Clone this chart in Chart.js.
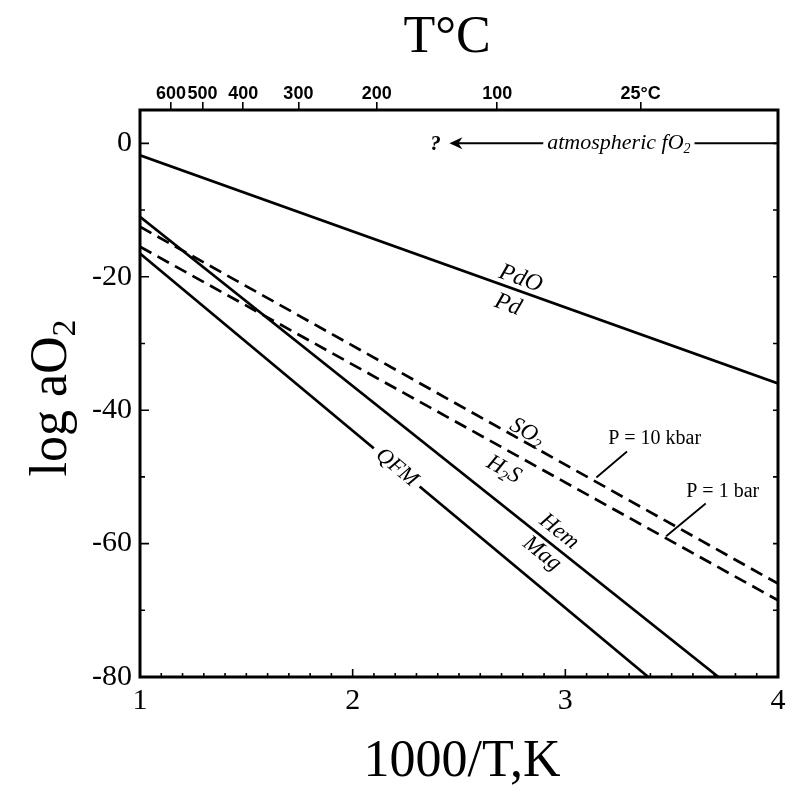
<!DOCTYPE html>
<html lang="en">
<head>
    <meta charset="UTF-8">
    <title>log aO2 vs 1000/T</title>
    <script src="https://cdn.jsdelivr.net/npm/chart.js"></script>
    <style>
        body { margin: 0; background: #fff; }
        #grafico { display: block; }
    </style>
</head>
<body>
    <canvas id="grafico" width="796" height="797"></canvas>
    <script>
    // ---- datos ----
    const xTicks = [1, 2, 3, 4];
    const yTicks = [0, -20, -40, -60, -80];
    const topTempsC = [600, 500, 400, 300, 200, 100, 25];
    const topTickLabels = ['600', '500', '400', '300', '200', '100', '25°C'];

    // lineas de equilibrio (1000/T, log aO2)
    const pdX = [1, 4];
    const pdY = [-1.8, -36];
    const hemMagX = [1, 3.72];
    const hemMagY = [-11, -80];
    const qfmX = [1, 3.39];
    const qfmY = [-16.5, -80];
    const so2HighPX = [1, 4];     // P = 10 kbar
    const so2HighPY = [-12.5, -66];
    const so2LowPX = [1, 4];      // P = 1 bar
    const so2LowPY = [-15.5, -68.5];

    const serif = "'Liberation Serif', 'DejaVu Serif', serif";
    const sans = "'Liberation Sans', Arial, sans-serif";

    function pts(xs, ys) {
        return xs.map((x, i) => ({ x: x, y: ys[i] }));
    }

    function linea(label, xs, ys, dashed) {
        return {
            label: label,
            data: pts(xs, ys),
            showLine: true,
            borderColor: '#000',
            borderWidth: 2.7,
            borderDash: dashed ? [13, 7] : [],
            pointRadius: 0,
            fill: false
        };
    }

    // dibuja texto centrado con subindices: partes = [[texto, esSub], ...]
    function textoPartes(ctx, partes, size, font, estilo) {
        const pre = estilo ? estilo + ' ' : '';
        const norm = pre + size + 'px ' + font;
        const sub = pre + Math.round(size * 0.65) + 'px ' + font;
        ctx.textAlign = 'left';
        let w = 0;
        partes.forEach(p => {
            ctx.font = p[1] ? sub : norm;
            w += ctx.measureText(p[0]).width;
        });
        let x = -w / 2;
        partes.forEach(p => {
            ctx.font = p[1] ? sub : norm;
            ctx.fillText(p[0], x, p[1] ? size * 0.28 : 0);
            x += ctx.measureText(p[0]).width;
        });
        return w;
    }

    const anotaciones = {
        id: 'anotaciones',
        afterDraw(chart) {
            const ctx = chart.ctx;
            const a = chart.chartArea;
            const sx = chart.scales.x;
            const sy = chart.scales.y;
            const px = v => sx.getPixelForValue(v);
            const py = v => sy.getPixelForValue(v);
            const ang = (xs, ys) => Math.atan2(py(ys[1]) - py(ys[0]), px(xs[1]) - px(xs[0]));

            ctx.save();
            ctx.fillStyle = '#000';
            ctx.strokeStyle = '#000';
            ctx.textBaseline = 'middle';

            // etiquetas rotadas sobre las lineas
            function etiqueta(partes, x, y, angulo, size, fondo) {
                ctx.save();
                ctx.translate(px(x), py(y));
                ctx.rotate(angulo);
                if (fondo) {
                    ctx.font = 'italic ' + size + 'px ' + serif;
                    let w = 0;
                    partes.forEach(p => { w += ctx.measureText(p[0]).width; });
                    ctx.fillStyle = '#fff';
                    ctx.fillRect(-w / 2 - 6, -size * 0.45, w + 12, size * 0.9);
                    ctx.fillStyle = '#000';
                }
                textoPartes(ctx, partes, size, serif, 'italic');
                ctx.restore();
            }

            const aPd = ang(pdX, pdY);
            etiqueta([['PdO', false]], 2.79, -20.3, aPd, 24);
            etiqueta([['Pd', false]], 2.73, -24.2, aPd, 24);

            const aSo = ang(so2HighPX, so2HighPY);
            etiqueta([['SO', false], ['2', true]], 2.82, -43.3, aSo, 23);
            etiqueta([['H', false], ['2', true], ['S', false]], 2.71, -48.9, aSo, 23);

            const aHem = ang(hemMagX, hemMagY);
            etiqueta([['Hem', false]], 2.97, -58.2, aHem, 23);
            etiqueta([['Mag', false]], 2.89, -61.5, aHem, 23);

            const aQfm = ang(qfmX, qfmY);
            etiqueta([['QFM', false]], 2.207, -48.6, aQfm, 22, true);

            // presiones con lineas guia
            ctx.font = '20px ' + serif;
            ctx.textAlign = 'center';
            ctx.fillText('P = 10 kbar', px(3.42), py(-44.3));
            ctx.fillText('P = 1 bar', px(3.74), py(-52.3));
            ctx.lineWidth = 1.8;
            ctx.beginPath();
            ctx.moveTo(px(3.29), py(-46.2));
            ctx.lineTo(px(3.146), py(-50.1));
            ctx.moveTo(px(3.66), py(-54.0));
            ctx.lineTo(px(3.474), py(-58.9));
            ctx.stroke();

            // fO2 atmosferico
            const ty = py(0);
            const tx = px(2.915);
            const w = textoAt(ctx, tx, ty);
            ctx.lineWidth = 2;
            ctx.beginPath();
            ctx.moveTo(tx + w + 4, ty);
            ctx.lineTo(a.right, ty);
            ctx.moveTo(tx - 4, ty);
            ctx.lineTo(px(2.47), ty);
            ctx.stroke();
            // punta de flecha
            ctx.beginPath();
            ctx.moveTo(px(2.455), ty);
            ctx.lineTo(px(2.455) + 13, ty - 6);
            ctx.lineTo(px(2.455) + 9, ty);
            ctx.lineTo(px(2.455) + 13, ty + 6);
            ctx.closePath();
            ctx.fill();
            ctx.font = 'bold italic 21px ' + serif;
            ctx.textAlign = 'center';
            ctx.fillText('?', px(2.39), ty + 1);

            // marco
            ctx.lineWidth = 3;
            ctx.strokeRect(a.left, a.top, a.right - a.left, a.bottom - a.top);

            // marcas interiores
            ctx.lineWidth = 1.6;
            ctx.beginPath();
            for (let i = 10; i <= 40; i++) {
                const x = px(i / 10);
                const l = i % 10 === 0 ? 8 : 4;
                ctx.moveTo(x, a.bottom);
                ctx.lineTo(x, a.bottom - l);
            }
            for (let v = 0; v >= -80; v -= 10) {
                const y = py(v);
                const l = v % 20 === 0 ? 9 : 5;
                ctx.moveTo(a.left, y);
                ctx.lineTo(a.left + l, y);
                ctx.moveTo(a.right, y);
                ctx.lineTo(a.right - 5, y);
            }
            ctx.stroke();

            // titulos de ejes
            ctx.textAlign = 'center';
            ctx.textBaseline = 'middle';
            ctx.font = '52px ' + serif;
            ctx.fillText('T°C', 447, 38);
            ctx.fillText('1000/T,K', 462, 762);
            ctx.save();
            ctx.translate(52, 398);
            ctx.rotate(-Math.PI / 2);
            textoPartes(ctx, [['log aO', false], ['2', true]], 52, serif, '');
            ctx.restore();

            ctx.restore();
        }
    };

    function textoAt(ctx, x, y) {
        ctx.save();
        ctx.translate(x, y);
        ctx.textAlign = 'left';
        ctx.font = 'italic 22px ' + serif;
        const w1 = ctx.measureText('atmospheric fO').width;
        ctx.fillText('atmospheric fO', 0, 0);
        ctx.font = 'italic 14px ' + serif;
        ctx.fillText('2', w1, 6);
        const w = w1 + ctx.measureText('2').width;
        ctx.restore();
        return w;
    }

    const ctx = document.getElementById('grafico').getContext('2d');
    new Chart(ctx, {
        type: 'scatter',
        data: {
            datasets: [
                linea('PdO/Pd', pdX, pdY, false),
                linea('Hem/Mag', hemMagX, hemMagY, false),
                linea('QFM', qfmX, qfmY, false),
                linea('SO2/H2S 10 kbar', so2HighPX, so2HighPY, true),
                linea('SO2/H2S 1 bar', so2LowPX, so2LowPY, true)
            ]
        },
        options: {
            responsive: false,
            animation: false,
            layout: { padding: { right: 18 } },
            plugins: {
                legend: { display: false },
                tooltip: { enabled: false }
            },
            scales: {
                x: {
                    type: 'linear',
                    position: 'bottom',
                    min: 1,
                    max: 4,
                    afterBuildTicks: s => { s.ticks = xTicks.map(v => ({ value: v })); },
                    ticks: { font: { family: serif, size: 30 }, color: '#000', padding: 6, maxRotation: 0 },
                    grid: { display: false, drawTicks: false },
                    border: { display: false },
                    afterFit: s => { s.height = 120; }
                },
                xTop: {
                    type: 'linear',
                    position: 'top',
                    min: 1,
                    max: 4,
                    afterBuildTicks: s => { s.ticks = topTempsC.map(c => ({ value: 1000 / (c + 273.15) })); },
                    ticks: {
                        callback: (v, i) => topTickLabels[i],
                        font: { family: sans, size: 18, weight: 'bold' },
                        color: '#000',
                        padding: -3,
                        maxRotation: 0,
                        autoSkip: false
                    },
                    grid: { drawOnChartArea: false, tickLength: 8, color: '#000', lineWidth: 1.6 },
                    border: { display: false },
                    afterFit: s => { s.height = 110; }
                },
                y: {
                    min: -80,
                    max: 5,
                    afterBuildTicks: s => { s.ticks = yTicks.map(v => ({ value: v })); },
                    ticks: { font: { family: serif, size: 30 }, color: '#000', padding: 8 },
                    grid: { display: false, drawTicks: false },
                    border: { display: false },
                    afterFit: s => { s.width = 140; }
                }
            }
        },
        plugins: [anotaciones]
    });
    </script>
</body>
</html>
